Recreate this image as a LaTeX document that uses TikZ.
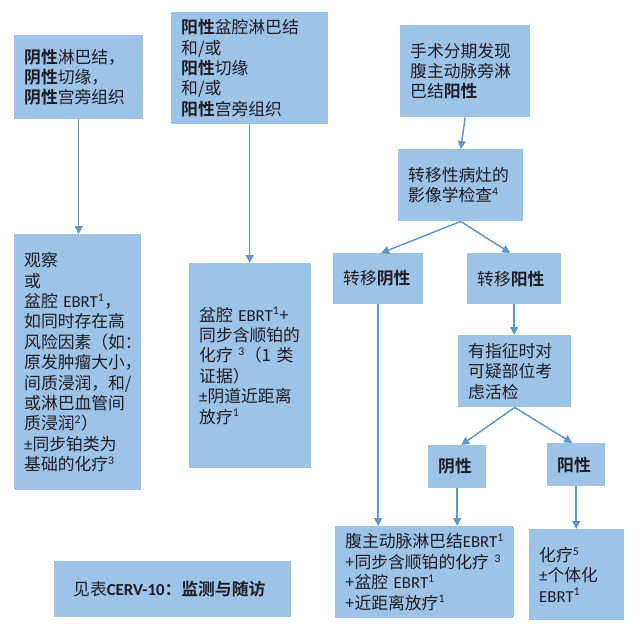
\documentclass[tikz,border=0pt]{standalone}
\usepackage{fontspec}
\setmainfont{Noto Sans CJK SC}[BoldFont=* Bold]
\newfontfamily\latinfont{Carlito}
\newcommand{\lat}[1]{{\latinfont #1}}
\newcommand{\sps}[1]{\textsuperscript{\latinfont #1}}
\newcommand{\pmx}{{\latinfont ±}}
\definecolor{boxblue}{HTML}{9DC3E6}
\definecolor{linkblue}{HTML}{5F97CC}
\definecolor{inktext}{HTML}{1C1C24}
\usetikzlibrary{arrows.meta}
\tikzset{
  flowbox/.style={fill=boxblue,draw=none,anchor=north west,align=left,text=inktext,
    inner xsep=0pt,inner ysep=0pt,font=\fontsize{16.8}{20.4}\selectfont},
  link/.style={draw=linkblue,line width=1.5pt,-{Triangle[length=8pt,width=8pt]}}
}
\newcommand{\flow}[6]{% name, x0, y0, x1, y1, text
  \pgfmathsetmacro{\bw}{#4-#2}\pgfmathsetmacro{\bh}{#5-#3}
  \node[flowbox,minimum width=\bw pt,minimum height=\bh pt,text width=\bw pt] (#1) at (#2,#3) {\leftskip=10pt #6\par};
}
\begin{document}
\begin{tikzpicture}[x=1pt,y=-1pt]
\useasboundingbox (0,0) rectangle (640,638);
\flow{a}{14}{35}{143}{119}{\textbf{阴性}淋巴结，\\\textbf{阴性}切缘，\\\textbf{阴性}宫旁组织}
\flow{b}{171}{12}{328}{124}{\textbf{阳性}盆腔淋巴结\\和/或\\\textbf{阳性}切缘\\和/或\\\textbf{阳性}宫旁组织}
\flow{c}{14}{234}{141}{490}{观察\\或\\盆腔 \lat{EBRT}\sps{1}，\\如同时存在高\\风险因素（如：\\原发肿瘤大小，\\间质浸润，和/\\或淋巴血管间\\质浸润\sps{2}）\\\pmx 同步铂类为\\基础的化疗\sps{3}}
\flow{d}{189}{263}{311}{468}{盆腔 \lat{EBRT}\sps{1}+\\同步含顺铂的\\化疗 \sps{3}（1 类\\证据）\\\pmx 阴道近距离\\放疗\sps{1}}
\flow{e}{400}{25}{530}{117}{手术分期发现\\腹主动脉旁淋\\巴结\textbf{阳性}}
\flow{f}{398}{149}{523}{221}{转移性病灶的\\影像学检查\sps{4}}
\flow{g}{333}{253}{423}{304}{转移\textbf{阴性}}
\flow{h}{467}{253}{561}{304}{转移\textbf{阳性}}
\flow{i}{458}{335}{571}{407}{有指征时对\\可疑部位考\\虑活检}
\flow{j}{428}{445}{486}{488}{\textbf{阴性}}
\flow{k}{547}{443}{605}{486}{\textbf{阳性}}
\flow{l}{335}{526}{514}{618}{腹主动脉淋巴结\lat{EBRT}\sps{1}\\+同步含顺铂的化疗 \sps{3}\\+盆腔 \lat{EBRT}\sps{1}\\+近距离放疗\sps{1}}
\flow{m}{529}{529}{624}{620}{化疗\sps{5}\\\pmx 个体化\\\lat{EBRT}\sps{1}}
\flow{n}{54}{561}{291}{617}{\hspace*{9pt}见表\textbf{\lat{CERV-10}：监测与随访}}
\draw[link] (a.south) -- (a.south |- c.north);
\draw[link] (b.south) -- (b.south |- d.north);
\draw[link] (e.south) -- (f.north);
\draw[link] (f.south) -- ([xshift=3pt]g.north);
\draw[link] (f.south) -- ([xshift=-4pt]h.north);
\draw[link] (h.south) -- (h.south |- i.north);
\draw[link] (g.south) -- (g.south |- l.north);
\draw[link] (i.south) -- ([xshift=4pt]j.north);
\draw[link] (i.south) -- ([xshift=-4pt]k.north);
\draw[link] (j.south) -- (j.south |- l.north);
\draw[link] (k.south) -- (k.south |- m.north);
\end{tikzpicture}
\end{document}
